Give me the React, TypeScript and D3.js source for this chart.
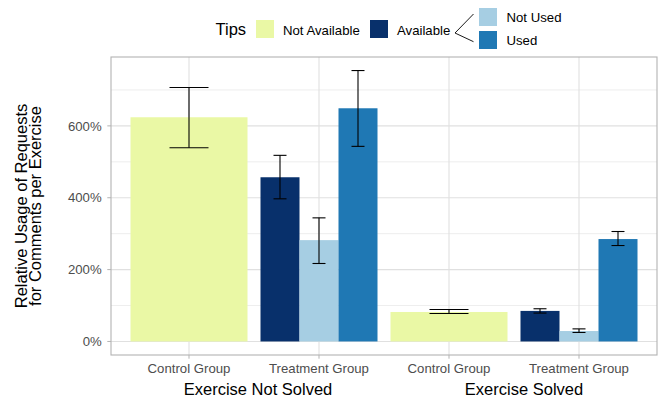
import React from "react";
import * as d3 from "d3";

const outcomes = ["Exercise Not Solved", "Exercise Solved"];
const groups = ["Control Group", "Treatment Group"];
const tipLevels = ["Not Available", "Available", "Not Used", "Used"];
const tipColors = ["#eaf8a5", "#08306b", "#a6cee3", "#1f78b4"];

// values per outcome (Not Solved, Solved), in percent
const notAvailableMean = [624, 82];
const notAvailableLow = [539, 78];
const notAvailableHigh = [707, 89];
const availableMean = [457, 85];
const availableLow = [397, 79];
const availableHigh = [518, 91];
const notUsedMean = [282, 29];
const notUsedLow = [217, 25];
const notUsedHigh = [344, 35];
const usedMean = [649, 285];
const usedLow = [543, 267];
const usedHigh = [754, 306];

const yTicks = [0, 200, 400, 600];
const yMinorTicks = [100, 300, 500, 700];

const FONT = "'Liberation Sans', Arial, Helvetica, sans-serif";

export default function App() {
  const W = 660;
  const H = 401;
  const panel = { left: 111, right: 657, top: 57, bottom: 355 };

  const keys: string[] = [];
  outcomes.forEach((o) => groups.forEach((g) => keys.push(o + "|" + g)));

  const x = d3
    .scalePoint<string>()
    .domain(keys)
    .range([panel.left, panel.right])
    .padding(0.6);
  const step = x.step();
  const barW = 0.9 * step;

  const allHigh = [...notAvailableHigh, ...availableHigh, ...notUsedHigh, ...usedHigh];
  const maxV = d3.max(allHigh) as number;
  const minV = 0;
  const span = maxV - minV;
  const y = d3
    .scaleLinear()
    .domain([minV - 0.05 * span, maxV + 0.05 * span])
    .range([panel.bottom, panel.top]);

  type Bar = { cx: number; w: number; mean: number; lo: number; hi: number; color: string; key: string };
  const bars: Bar[] = [];
  outcomes.forEach((o, i) => {
    const cC = x(o + "|" + groups[0]) as number;
    bars.push({ cx: cC, w: barW, mean: notAvailableMean[i], lo: notAvailableLow[i], hi: notAvailableHigh[i], color: tipColors[0], key: o + "na" });
    const cT = x(o + "|" + groups[1]) as number;
    const sub = [
      [availableMean, availableLow, availableHigh],
      [notUsedMean, notUsedLow, notUsedHigh],
      [usedMean, usedLow, usedHigh],
    ];
    const sw = barW / 3;
    sub.forEach((s, j) => {
      bars.push({
        cx: cT - barW / 2 + sw * (j + 0.5),
        w: sw,
        mean: s[0][i],
        lo: s[1][i],
        hi: s[2][i],
        color: tipColors[j + 1],
        key: o + "t" + j,
      });
    });
  });

  const outcomeOffsets = [4, 10];

  return (
    <svg
      width={W}
      height={H}
      style={{ position: "fixed", left: 0, top: 0, background: "#fff" }}
      fontFamily={FONT}
    >
      <rect x={0} y={0} width={W} height={H} fill="#fff" />
      {/* grid */}
      {yMinorTicks.map((t) => (
        <line key={"mi" + t} x1={panel.left} x2={panel.right} y1={y(t)} y2={y(t)} stroke="#e8e8e8" strokeWidth={0.8} />
      ))}
      {yTicks.map((t) => (
        <line key={"ma" + t} x1={panel.left} x2={panel.right} y1={y(t)} y2={y(t)} stroke="#e0e0e0" strokeWidth={1.1} />
      ))}
      {keys.map((k) => (
        <line key={"vx" + k} x1={x(k)} x2={x(k)} y1={panel.top} y2={panel.bottom} stroke="#e0e0e0" strokeWidth={1.1} />
      ))}
      {/* bars */}
      {bars.map((b) => (
        <rect key={b.key} x={b.cx - b.w / 2} width={b.w} y={y(b.mean)} height={y(0) - y(b.mean)} fill={b.color} />
      ))}
      {/* error bars */}
      {bars.map((b) => {
        const ew = b.w / 3;
        return (
          <g key={"e" + b.key} stroke="#000" strokeWidth={1.1} fill="none">
            <line x1={b.cx} x2={b.cx} y1={y(b.lo)} y2={y(b.hi)} />
            <line x1={b.cx - ew / 2} x2={b.cx + ew / 2} y1={y(b.lo)} y2={y(b.lo)} />
            <line x1={b.cx - ew / 2} x2={b.cx + ew / 2} y1={y(b.hi)} y2={y(b.hi)} />
          </g>
        );
      })}
      {/* panel border */}
      <rect
        x={panel.left}
        y={panel.top}
        width={panel.right - panel.left}
        height={panel.bottom - panel.top}
        fill="none"
        stroke="#b3b3b3"
        strokeWidth={1.1}
      />
      {/* y axis */}
      {yTicks.map((t) => (
        <g key={"yt" + t}>
          <line x1={panel.left - 3.7} x2={panel.left} y1={y(t)} y2={y(t)} stroke="#b3b3b3" strokeWidth={1} />
          <text x={panel.left - 9.3} y={y(t)} dy="0.36em" textAnchor="end" fontSize={13.2} fill="#4d4d4d">
            {t + "%"}
          </text>
        </g>
      ))}
      {/* x axis */}
      {keys.map((k) => (
        <g key={"xt" + k}>
          <line x1={x(k)} x2={x(k)} y1={panel.bottom} y2={panel.bottom + 3.7} stroke="#b3b3b3" strokeWidth={1} />
          <text x={x(k)} y={372.8} textAnchor="middle" fontSize={13.2} fill="#4d4d4d">
            {k.split("|")[1]}
          </text>
        </g>
      ))}
      {outcomes.map((o, i) => {
        const c = ((x(o + "|" + groups[0]) as number) + (x(o + "|" + groups[1]) as number)) / 2;
        return (
          <text key={"o" + o} x={c + outcomeOffsets[i]} y={395.3} textAnchor="middle" fontSize={16.5} fill="#000">
            {o}
          </text>
        );
      })}
      {/* y title */}
      <g transform={`translate(0, ${(panel.top + panel.bottom) / 2})`}>
        <text transform="translate(27,0) rotate(-90)" textAnchor="middle" fontSize={16.5} fill="#000">
          Relative Usage of Requests
        </text>
        <text transform="translate(41,0) rotate(-90)" textAnchor="middle" fontSize={16.5} fill="#000">
          for Comments per Exercise
        </text>
      </g>
      {/* legend */}
      <g>
        <text x={215.5} y={35} fontSize={16.5} fill="#000">Tips</text>
        <rect x={256} y={20} width={18} height={18} fill={tipColors[0]} />
        <text x={283} y={34.5} fontSize={13.2} fill="#000">{tipLevels[0]}</text>
        <rect x={370} y={20} width={18} height={18} fill={tipColors[1]} />
        <text x={397} y={34.5} fontSize={13.2} fill="#000">{tipLevels[1]}</text>
        <line x1={455} y1={33} x2={473.5} y2={14} stroke="#000" strokeWidth={0.9} />
        <line x1={455} y1={33} x2={473.5} y2={41.7} stroke="#000" strokeWidth={0.9} />
        <rect x={479} y={8} width={18} height={18} fill={tipColors[2]} />
        <text x={506.5} y={22.2} fontSize={13.2} fill="#000">{tipLevels[2]}</text>
        <rect x={479} y={31} width={18} height={18} fill={tipColors[3]} />
        <text x={506.5} y={44.8} fontSize={13.2} fill="#000">{tipLevels[3]}</text>
      </g>
    </svg>
  );
}
